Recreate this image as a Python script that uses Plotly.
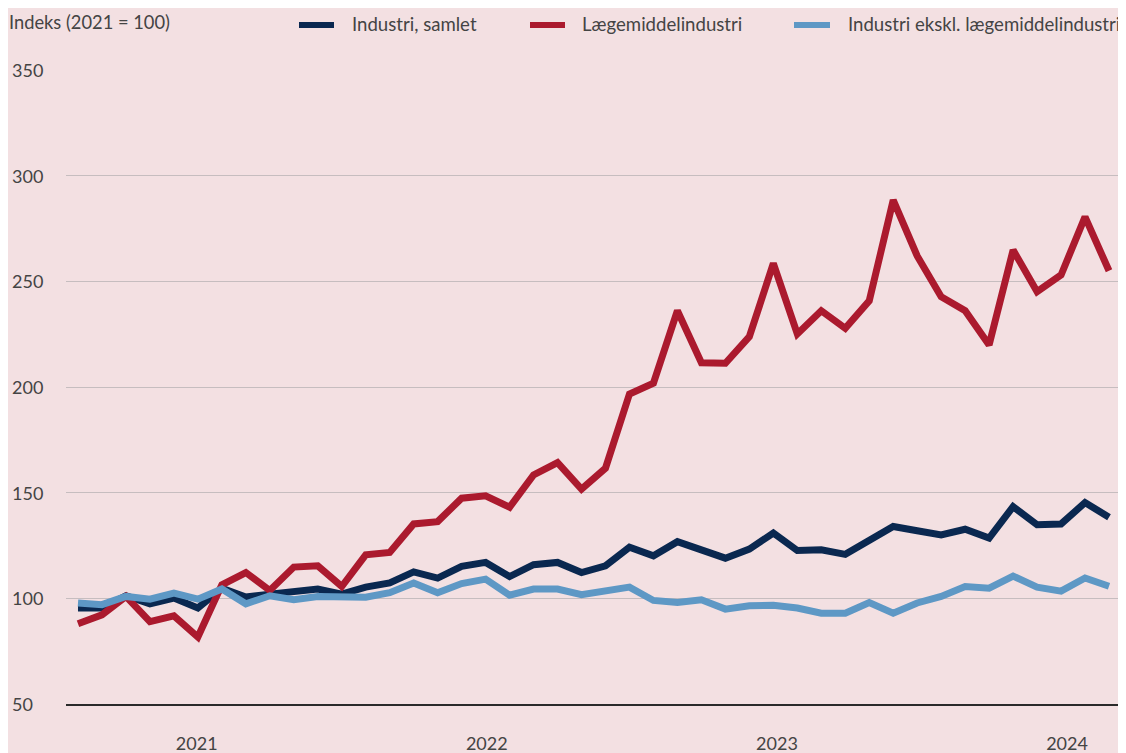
import plotly.graph_objects as go

# Monthly observations, Jan 2021 - Aug 2024
months = [f"{y}-{m:02d}" for y in (2021, 2022, 2023) for m in range(1, 13)] + \
         [f"2024-{m:02d}" for m in range(1, 9)]

industri_samlet = [95.4, 95.4, 101.2, 97.4, 100.1, 95.4, 104.8, 100.6, 102.0, 103.2, 104.4, 102.0,
                   105.3, 107.3, 112.5, 109.6, 115.1, 117.0, 110.3, 115.9, 117.0, 112.2, 115.4, 124.2,
                   120.1, 126.8, 122.6, 119.0, 123.3, 130.9, 122.6, 123.0, 120.8, 127.0, 134.0, 132.0,
                   130.0, 132.7, 128.5, 143.4, 134.8, 135.2, 145.3, 138.4]

laegemiddel = [88.0, 92.2, 100.9, 89.0, 91.7, 81.7, 106.4, 112.2, 103.7, 114.8, 115.4, 105.6,
               120.6, 121.7, 135.2, 136.3, 147.4, 148.5, 143.1, 158.4, 164.2, 151.7, 161.6, 196.7,
               201.8, 236.1, 211.5, 211.2, 223.8, 258.5, 225.1, 236.1, 227.8, 240.8, 288.4, 262.0,
               242.7, 236.1, 219.9, 264.8, 245.1, 253.0, 280.5, 255.0]

ekskl_laegemiddel = [97.8, 97.0, 100.9, 99.6, 102.5, 99.6, 104.4, 97.4, 101.2, 99.3, 100.9, 100.6,
                     100.5, 102.7, 107.3, 102.6, 107.0, 109.1, 101.5, 104.4, 104.4, 101.7, 103.2, 105.3,
                     99.0, 98.0, 99.3, 94.9, 96.5, 96.7, 95.4, 93.0, 93.0, 98.0, 93.0, 97.8,
                     100.9, 105.6, 104.8, 110.5, 105.3, 103.4, 109.6, 105.7]

series_names = ["Industri, samlet", "Lægemiddelindustri", "Industri ekskl. lægemiddelindustri"]
year_labels = ["2021", "2022", "2023", "2024"]
y_ticks = [50, 100, 150, 200, 250, 300, 350]
y_title = "Indeks (2021 = 100)"

colors = ["#0a2850", "#ab1a2e", "#5e98c5"]
BG = "#f3e0e2"
TXT = "#444444"
FONT = "Lato"

# the page body adds an 8px margin; lay out in window pixels and compensate
OFF = 8
W, H = 1126, 753
ML, MT = 66 - OFF, 70 - OFF
MR = W - (1121 - OFF)
MB = H - (704 - OFF)
PW = W - ML - MR
PH = H - MT - MB


def px_x(p):  # window pixel -> paper x
    return (p - OFF - ML) / PW


def px_y(p):  # window pixel -> paper y
    return (H - MB - (p - OFF)) / PH


x = list(range(len(months)))

fig = go.Figure()
for name, vals, col in zip(series_names, [industri_samlet, laegemiddel, ekskl_laegemiddel], colors):
    fig.add_trace(go.Scatter(x=x, y=vals, name=name, mode="lines",
                             customdata=months, showlegend=False,
                             line=dict(color=col, width=7),
                             hovertemplate="%{customdata}: %{y}<extra>" + name + "</extra>"))

# year label positions (in month-index units), centred under each year
year_pos = [4.95 + 12.1 * i for i in range(len(year_labels))]

annotations = []
shapes = []
for t in y_ticks:
    annotations.append(dict(xref="paper", yref="y", x=px_x(10), y=t, xanchor="left", yanchor="middle",
                            text=str(t), showarrow=False,
                            font=dict(family=FONT, size=18, color=TXT)))
annotations.append(dict(xref="paper", yref="paper", x=px_x(7), y=px_y(22), xanchor="left",
                        yanchor="middle", text=y_title, showarrow=False,
                        font=dict(family=FONT, size=18.3, color=TXT)))

# legend (symbol start, symbol end, text start) in window pixels
legend_px = [(299, 334, 350), (530, 565, 580), (794, 830, 846)]
for (s0, s1, tx), name, col in zip(legend_px, series_names, colors):
    shapes.append(dict(type="line", xref="paper", yref="paper", x0=px_x(s0), x1=px_x(s1),
                       y0=px_y(25), y1=px_y(25), line=dict(color=col, width=6)))
    annotations.append(dict(xref="paper", yref="paper", x=px_x(tx), y=px_y(24), xanchor="left",
                            yanchor="middle", text=name, showarrow=False,
                            font=dict(family=FONT, size=18.6, color=TXT)))

fig.update_layout(
    width=W, height=H,
    margin=dict(l=ML, r=MR, t=MT, b=MB, autoexpand=False),
    paper_bgcolor=BG, plot_bgcolor=BG,
    font=dict(family=FONT, size=18, color=TXT),
    showlegend=False,
    annotations=annotations,
    shapes=shapes,
    hovermode="x unified",
)

fig.update_xaxes(range=[-0.5, len(months) - 0.5], tickmode="array", tickvals=year_pos,
                 ticktext=year_labels, showgrid=False, zeroline=False, automargin=False,
                 showline=True, linecolor="#2a2a2a", linewidth=1.5, ticks="",
                 ticklabelstandoff=23, tickfont=dict(family=FONT, size=18, color=TXT))
fig.update_yaxes(range=[50, 350], tickvals=y_ticks, showticklabels=False, automargin=False,
                 showgrid=True, gridcolor="#c6bdbf", gridwidth=1.2, zeroline=False,
                 showline=False, ticks="")

fig.write_html("out.html")
